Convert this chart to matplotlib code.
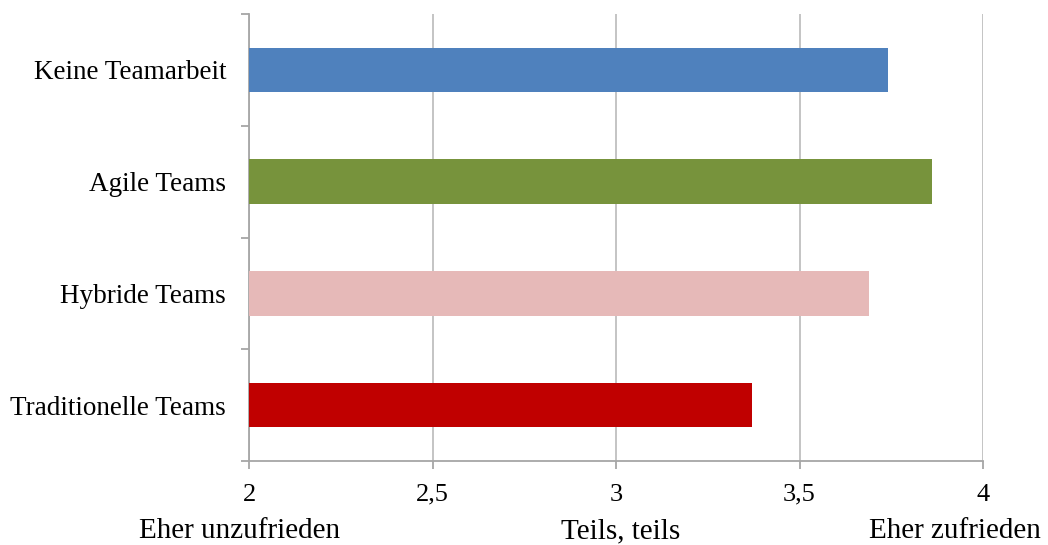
import matplotlib
matplotlib.use("Agg")
import matplotlib.pyplot as plt
from matplotlib.ticker import FixedLocator

categories = ["Traditionelle Teams", "Hybride Teams", "Agile Teams", "Keine Teamarbeit"]
values = [3.37, 3.69, 3.86, 3.74]
colors = ["#C00000", "#E6B9B8", "#77933C", "#4F81BD"]
xticks = [2, 2.5, 3, 3.5, 4]
xticklabels = ["2", "2,5", "3", "3,5", "4"]
scale_labels = ["Eher unzufrieden", "Teils, teils", "Eher zufrieden"]
scale_x = [240, 621, 955]  # pixel centres

plt.rcParams['font.family'] = ['Liberation Serif', 'DejaVu Serif']

W, H = 1048, 545
fig = plt.figure(figsize=(W / 100, H / 100), dpi=100)
ax = fig.add_axes([249 / W, 1 - 461 / H, (983 - 249) / W, (461 - 14) / H])

ypos = list(range(len(categories)))
ax.barh(ypos, [v - 2 for v in values], left=2, height=0.4, color=colors, zorder=3)

ax.set_xlim(2, 4)
ax.set_ylim(-0.5, len(categories) - 0.5)

ax.set_xticks(xticks)
ax.set_xticklabels(xticklabels, fontsize=19)
ax.set_yticks(ypos)
ax.set_yticklabels(categories, fontsize=19.5)
ax.yaxis.set_minor_locator(FixedLocator([i - 0.5 for i in range(len(categories) + 1)]))

spine_col = "#A6A6A6"
ax.tick_params(axis="y", which="major", length=0, pad=16.5)
ax.tick_params(axis="y", which="minor", length=5.8, width=1.3, color=spine_col)
ax.tick_params(axis="x", which="major", length=5.8, width=1.3, color=spine_col, pad=10.5)

ax.grid(axis="x", color="#BFBFBF", linewidth=1.3, zorder=0)
for s in ["top", "right"]:
    ax.spines[s].set_visible(False)
for s in ["left", "bottom"]:
    ax.spines[s].set_color(spine_col)
    ax.spines[s].set_linewidth(1.3)

for lab, xp in zip(scale_labels, scale_x):
    fig.text(xp / W, 1 - 531 / H, lab, ha="center", va="center", fontsize=21)

fig.savefig("out.png", dpi=100)
